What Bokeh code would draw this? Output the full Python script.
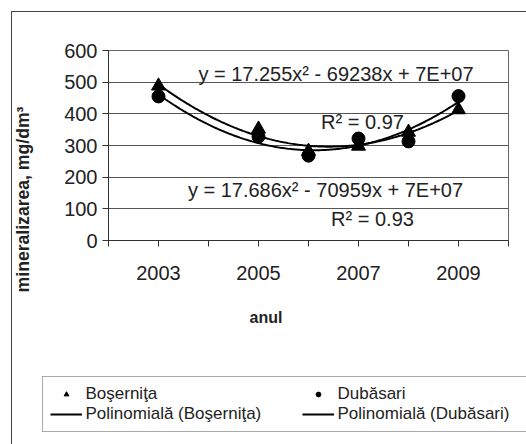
import numpy as np
from bokeh.plotting import figure
from bokeh.layouts import column, row
from bokeh.models import (Range1d, FixedTicker, Label, Legend, LegendItem, Title)
from bokeh.embed import file_html
from bokeh.resources import INLINE

# Mineralisation (mg/dm3) measured per year at two stations
years = [2003, 2005, 2006, 2007, 2008, 2009]
bosernita = [488, 352, 282, 298, 342, 413]
dubasari = [455, 328, 268, 322, 313, 456]

y_ticks = [0, 100, 200, 300, 400, 500, 600]
x_ticks = [2002, 2003, 2004, 2005, 2006, 2007, 2008, 2009, 2010]
x_tick_labels = ["", "2003", "", "2005", "", "2007", "", "2009", ""]

eq_bosernita = "y = 17.255x² - 69238x + 7E+07"
r2_bosernita = "R² = 0.97"
eq_dubasari = "y = 17.686x² - 70959x + 7E+07"
r2_dubasari = "R² = 0.93"

FONT = "Liberation Sans"
TXT = "#222222"


def blank(fig):
    fig.grid.grid_line_color = None
    fig.outline_line_color = None
    fig.background_fill_color = "white"
    fig.border_fill_color = "white"


# ---- chart area -------------------------------------------------------
p = figure(width=484, height=349, output_backend="svg", toolbar_location=None,
           x_range=Range1d(2002, 2010), y_range=Range1d(0, 600),
           min_border_left=66, min_border_right=18,
           min_border_top=38, min_border_bottom=121)
p.background_fill_color = "white"
p.border_fill_color = "white"
p.outline_line_color = "#666666"
p.outline_line_width = 1

p.yaxis.ticker = FixedTicker(ticks=y_ticks)
p.xaxis.ticker = FixedTicker(ticks=x_ticks)
p.xaxis.major_label_overrides = {t: s for t, s in zip(x_ticks, x_tick_labels)}
for ax in (p.xaxis[0], p.yaxis[0]):
    ax.major_label_text_font = FONT
    ax.major_label_text_font_size = "20px"
    ax.major_label_text_color = TXT
    ax.axis_line_color = "#333333"
    ax.major_tick_line_color = "#333333"
    ax.major_tick_in = 0
    ax.major_tick_out = 6
    ax.minor_tick_line_color = None
p.xaxis.major_label_standoff = 19
p.yaxis.major_label_standoff = 5

p.xgrid.grid_line_color = None
p.ygrid.grid_line_color = "#555555"
p.ygrid.grid_line_width = 1

# quadratic trend lines fitted to each series
xs = np.array(years, dtype=float)
t_fine = np.linspace(2003, 2009, 200)
cb = np.polyfit(xs - 2006, bosernita, 2)
cd = np.polyfit(xs - 2006, dubasari, 2)
p.line(t_fine, np.polyval(cb, t_fine - 2006), line_color="black", line_width=2)
p.line(t_fine, np.polyval(cd, t_fine - 2006), line_color="black", line_width=2)

p.scatter(years, bosernita, marker="triangle", size=14,
          fill_color="black", line_color="black")
p.scatter(years, dubasari, marker="circle", size=13,
          fill_color="black", line_color="black")


def note(text, x, y):
    p.add_layout(Label(x=x, y=y, text=text, text_font=FONT, text_font_size="20px",
                       text_color=TXT, text_align="center", text_baseline="middle"))


note(eq_bosernita, 2006.55, 526)
note(r2_bosernita, 2007.08, 375)
note(eq_dubasari, 2006.34, 159)
note(r2_dubasari, 2007.28, 67)

p.add_layout(Title(text="anul", align="left", offset=141, standoff=52,
                   vertical_align="top",
                   text_font=FONT, text_font_size="16px",
                   text_font_style="bold", text_color=TXT), "below")

# ---- y axis title strip -----------------------------------------------
tfig = figure(width=30, height=349, output_backend="svg", toolbar_location=None,
              x_range=Range1d(0, 30), y_range=Range1d(0, 349), min_border=0,
              x_axis_location=None, y_axis_location=None)
blank(tfig)
tfig.add_layout(Label(x=10.5, y=162, text="mineralizarea, mg/dm³",
                      angle=np.pi / 2, text_font=FONT, text_font_size="17.6px",
                      text_font_style="bold", text_color=TXT,
                      text_align="center", text_baseline="middle"))

# ---- legend strip -----------------------------------------------------
lg = figure(width=514, height=83, output_backend="svg", toolbar_location=None,
            x_range=Range1d(0, 514), y_range=Range1d(0, 83), min_border=0,
            x_axis_location=None, y_axis_location=None)
blank(lg)

# the series are redrawn here only to supply legend swatches; they fall
# outside this strip's range and so stay hidden
k_b = lg.scatter(years, bosernita, marker="triangle",
                 fill_color="black", line_color="black")
k_tb = lg.line(years, bosernita, line_color="black", line_width=2)
k_d = lg.scatter(years, dubasari, marker="circle",
                 fill_color="black", line_color="black")
k_td = lg.line(years, dubasari, line_color="black", line_width=2)

legend = Legend(items=[
    LegendItem(label="Boşerniţa", renderers=[k_b]),
    LegendItem(label="Polinomială (Boşerniţa)", renderers=[k_tb]),
    LegendItem(label="Dubăsari", renderers=[k_d]),
    LegendItem(label="Polinomială (Dubăsari)", renderers=[k_td]),
], location=(29.5, 12.5), orientation="vertical", nrows=2)
legend.label_text_font = FONT
legend.label_text_font_size = "17px"
legend.label_text_color = TXT
legend.glyph_width = 32
legend.glyph_height = 12
legend.label_height = 12
legend.label_width = 216
legend.label_standoff = 4
legend.spacing = 0
legend.padding = 7
legend.margin = 0
legend.border_line_color = "#555555"
legend.border_line_width = 1
legend.background_fill_color = "white"
legend.background_fill_alpha = 1
lg.add_layout(legend)

# outer box: left and top edges of the chart border
layout = column(row(column(tfig), p, spacing=0), row(lg), spacing=0,
                margin=(11, 0, 0, 11),
                styles={"border-left": "1.5px solid #444444",
                        "border-top": "1.5px solid #444444"})

open("out.html", "w").write(file_html(layout, INLINE))
